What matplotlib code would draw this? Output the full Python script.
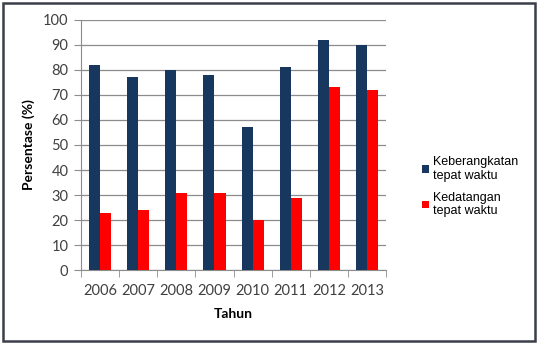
import numpy as np
import matplotlib.pyplot as plt
from matplotlib.patches import Rectangle

years = ['2006', '2007', '2008', '2009', '2010', '2011', '2012', '2013']
keberangkatan = [82, 77, 80, 78, 57, 81, 92, 90]
kedatangan = [23, 24, 31, 31, 20, 29, 73, 72]

navy = '#17375E'
red = '#FF0000'
grid_c = '#8C8C8C'

plt.rcParams['font.family'] = ['Lato', 'DejaVu Sans']

fig = plt.figure(figsize=(5.4, 3.44), dpi=100)
ax = fig.add_axes([0.15, 0.215, 0.565, 0.727])

x = np.arange(len(years))
w = 0.29
ax.bar(x - w / 2, keberangkatan, w, color=navy, label='Keberangkatan\ntepat waktu', zorder=3)
ax.bar(x + w / 2, kedatangan, w, color=red, label='Kedatangan\ntepat waktu', zorder=3)

ax.set_xlim(-0.5, len(years) - 0.5)
ax.set_ylim(0, 100)
ax.set_yticks(range(0, 101, 10))
ax.set_xticks(x)
ax.set_xticklabels(years)
ax.set_xticks(np.arange(-0.5, len(years), 1), minor=True)
ax.tick_params(axis='x', which='major', length=0, pad=10, labelsize=10.5, colors='#404040')
ax.tick_params(axis='x', which='minor', length=5, color=grid_c, direction='out')
ax.tick_params(axis='y', length=5, color=grid_c, labelsize=10.5, labelcolor='#404040', pad=4)
ax.yaxis.grid(True, color=grid_c, linewidth=0.9, zorder=0)
for s in ['top', 'right']:
    ax.spines[s].set_visible(False)
ax.spines['left'].set_color(grid_c)
ax.spines['bottom'].set_color(grid_c)

ax.set_xlabel('Tahun', fontsize=10, fontweight='bold', labelpad=7)
ax.set_ylabel('Persentase (%)', fontsize=10, fontweight='bold', labelpad=6)

fig.legend(loc='upper left', bbox_to_anchor=(0.76, 0.58), frameon=False,
           handlelength=0.6, handleheight=0.6, handletextpad=0.3,
           labelspacing=0.8, prop={'family': 'Liberation Sans', 'size': 9})

fig.patches.append(Rectangle((0.006, 0.01), 0.985, 0.98, transform=fig.transFigure,
                             fill=False, edgecolor='#3A3F4A', linewidth=1.8))

fig.savefig('out.png', dpi=100)
